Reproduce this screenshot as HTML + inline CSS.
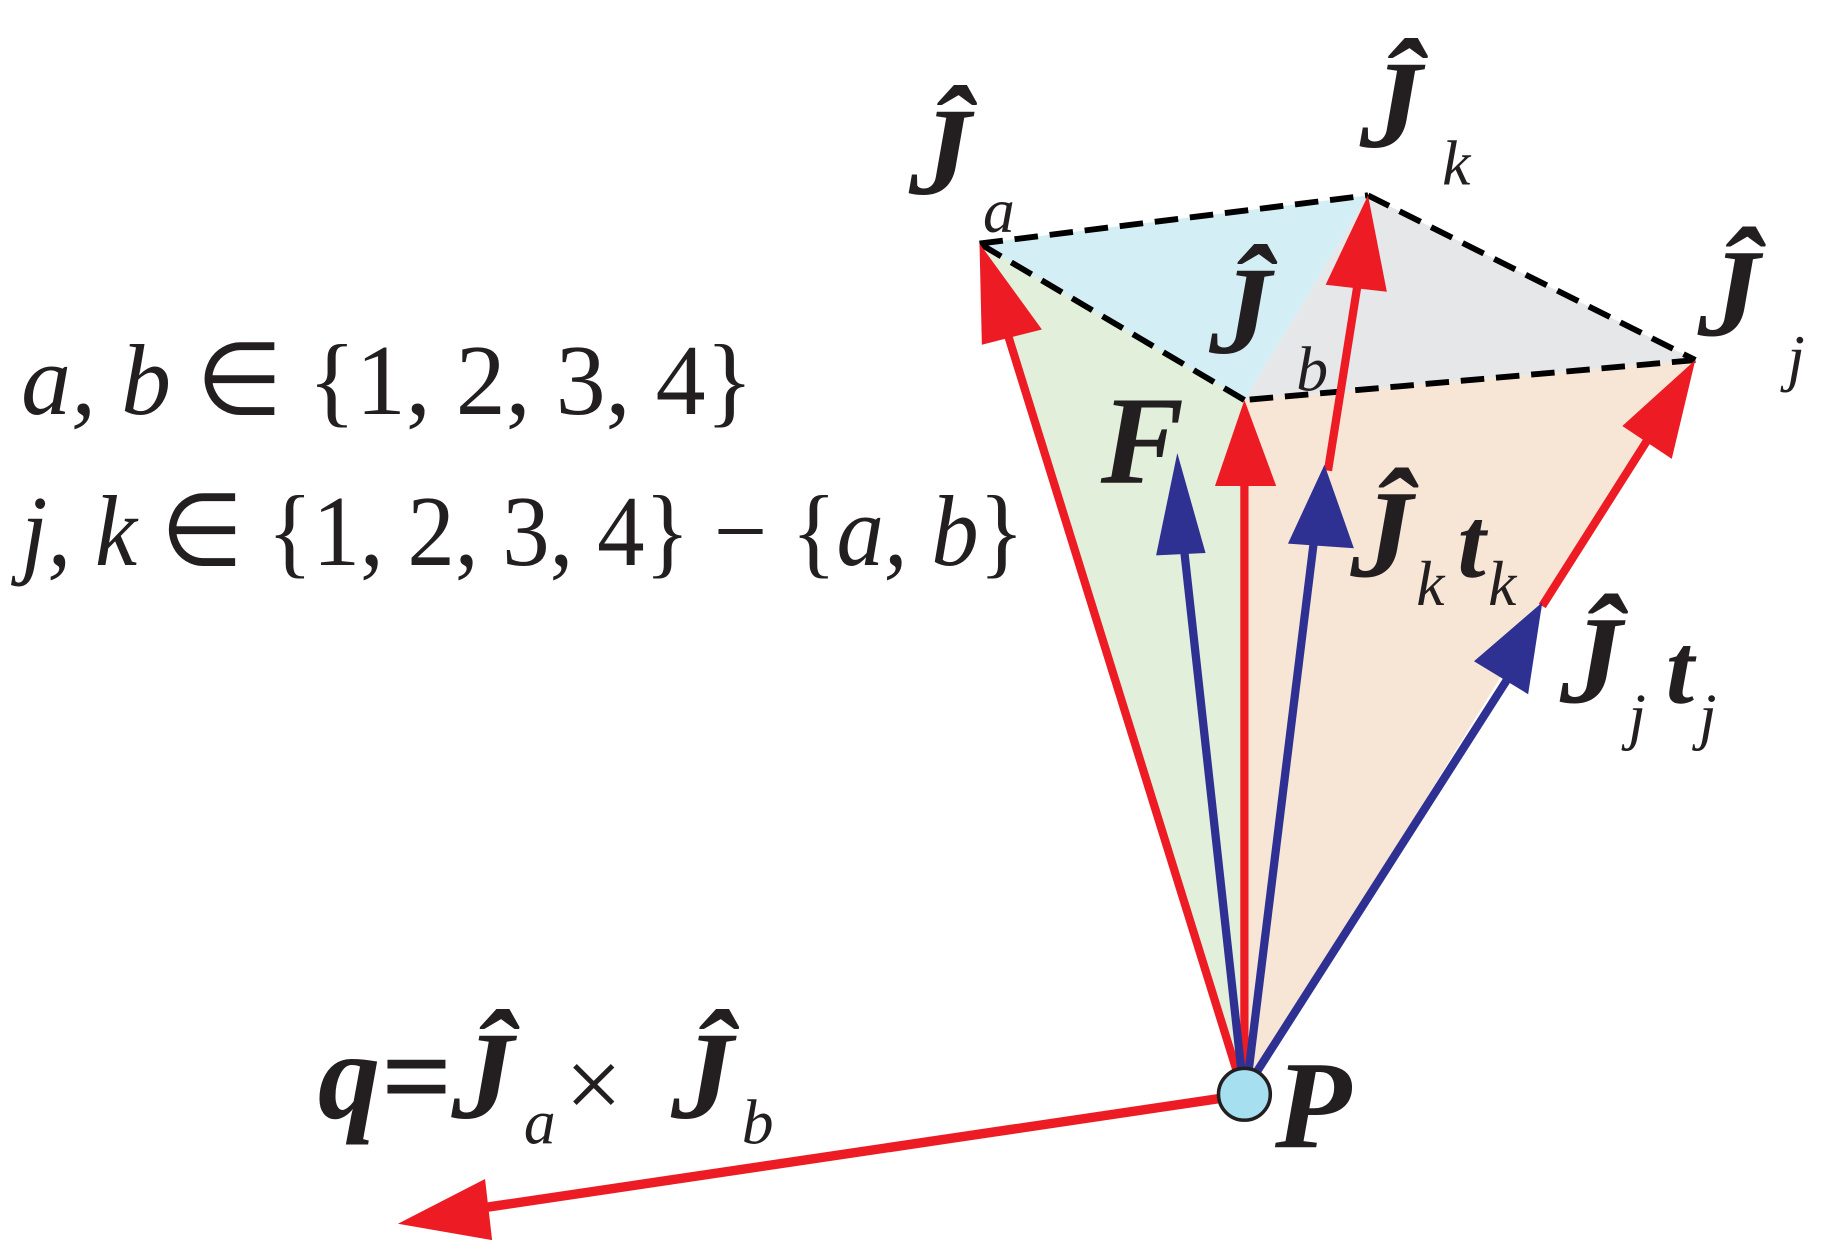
<!DOCTYPE html>
<html><head><meta charset="utf-8"><style>
html,body{margin:0;padding:0;background:#fff;}
svg{display:block;}
.J{font-family:"Liberation Serif",serif;font-weight:bold;font-style:italic;font-size:106px;fill:#231f20;}
.s{font-family:"Liberation Serif",serif;font-style:italic;font-size:54px;fill:#231f20;}
.t{font-family:"Liberation Serif",serif;font-style:italic;font-size:86px;fill:#231f20;}
.r{font-family:"Liberation Serif",serif;font-style:normal;font-size:86px;fill:#231f20;}
</style></head><body>
<svg width="1846" height="1259" viewBox="0 0 1568 1070" preserveAspectRatio="none" xmlns="http://www.w3.org/2000/svg">
<polygon points="1057,930 832,207 1057,340" fill="#e2efda"/>
<polygon points="1057,930 1057,340 1440,306" fill="#f7e6d6"/>
<polygon points="832,207 1162,166 1057,340" fill="#d3eef5"/>
<polygon points="1162,166 1440,306 1057,340" fill="#e6e7e9"/>
<g stroke="#000" stroke-width="5" stroke-dasharray="20,10" fill="none">
<line x1="832" y1="207" x2="1162" y2="166"/>
<line x1="1162" y1="166" x2="1440" y2="306"/>
<line x1="1440" y1="306" x2="1057" y2="340"/>
<line x1="1057" y1="340" x2="832" y2="207"/>
</g>
<g stroke="#ed1c24" stroke-width="7" fill="none">
<line x1="1052" y1="915" x2="850" y2="265"/>
<line x1="1057" y1="915" x2="1057" y2="400"/>
<line x1="1128" y1="400" x2="1155" y2="230"/>
<line x1="1310" y1="515" x2="1405" y2="365"/>
<line x1="1040" y1="933" x2="400" y2="1028" stroke-width="8"/>
</g>
<g fill="#ed1c24">
<polygon points="832,207 885,280 834,293"/>
<polygon points="1057,340 1084,413 1032,413"/>
<polygon points="1162,166 1178,248 1126,242"/>
<polygon points="1440,306 1420,390 1378,362"/>
<polygon points="338,1040 412,1002 418,1054"/>
</g>
<g stroke="#2e3192" stroke-width="7" fill="none">
<line x1="1055" y1="915" x2="1005" y2="460"/>
<line x1="1060" y1="915" x2="1116" y2="460"/>
<line x1="1063" y1="918" x2="1285" y2="570"/>
</g>
<g fill="#2e3192">
<polygon points="1000,385 1024,470 982,472"/>
<polygon points="1125,395 1150,466 1094,462"/>
<polygon points="1310,512 1298,590 1252,562"/>
</g>
<circle cx="1057" cy="930" r="22" fill="#a6dff0" stroke="#231f20" stroke-width="3"/>
<text x="18" y="352" class="t" textLength="622" lengthAdjust="spacingAndGlyphs">a, b <tspan class="r">∈ {1, 2, 3, 4}</tspan></text>
<text x="18" y="480" class="t" textLength="852" lengthAdjust="spacingAndGlyphs">j, k <tspan class="r">∈ {1, 2, 3, 4} − {</tspan>a, b<tspan class="r">}</tspan></text>
<text x="772" y="165" class="J">Ĵ</text><text x="835" y="197" class="s">a</text>
<text x="1155" y="125" class="J">Ĵ</text><text x="1225" y="157" class="s">k</text>
<text x="1442" y="285" class="J">Ĵ</text><text x="1518" y="322" class="s">j</text>
<text x="1027" y="300" class="J">Ĵ</text><text x="1101" y="332" class="s">b</text>
<text x="935" y="410" class="J">F</text>
<text x="1147" y="490" class="J">Ĵ</text><text x="1203" y="514" class="s">k</text><text x="1238" y="490" class="J" style="font-size:86px">t</text><text x="1264" y="514" class="s">k</text>
<text x="1325" y="597" class="J">Ĵ</text><text x="1383" y="627" class="s">j</text><text x="1415" y="597" class="J" style="font-size:86px">t</text><text x="1443" y="627" class="s">j</text>
<text x="270" y="950" class="J">q=Ĵ</text><text x="445" y="972" class="s">a</text><text x="480" y="950" class="r">×</text><text x="570" y="950" class="J">Ĵ</text><text x="630" y="972" class="s">b</text>
<text x="1083" y="975" class="J">P</text>
</svg>
</body></html>
